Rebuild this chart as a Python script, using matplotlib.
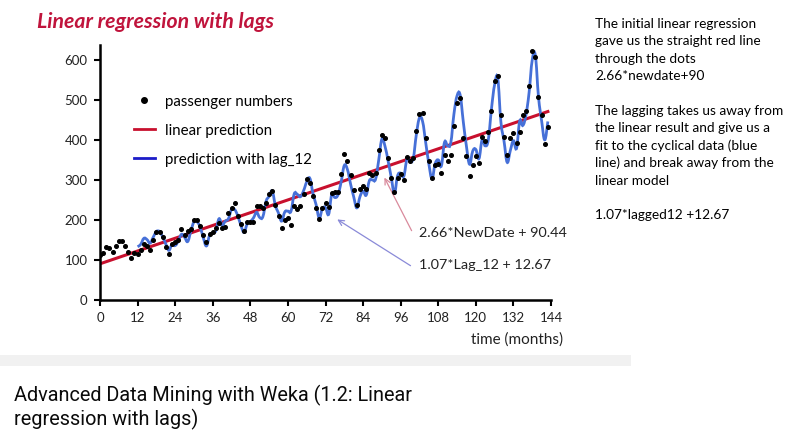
import numpy as np
import matplotlib
matplotlib.use("Agg")
import matplotlib.pyplot as plt
from matplotlib.path import Path
from matplotlib.patches import PathPatch, Rectangle
from matplotlib.lines import Line2D

# monthly passenger numbers, NewDate = 0..143
passengers = [
    112, 118, 132, 129, 121, 135, 148, 148, 136, 119, 104, 118,
    115, 126, 141, 135, 125, 149, 170, 170, 158, 133, 114, 140,
    145, 150, 178, 163, 172, 178, 199, 199, 184, 162, 146, 166,
    171, 180, 193, 181, 183, 218, 230, 242, 209, 191, 172, 194,
    196, 196, 236, 235, 229, 243, 264, 272, 237, 211, 180, 201,
    204, 188, 235, 227, 234, 264, 302, 293, 259, 229, 203, 229,
    242, 233, 267, 269, 270, 315, 364, 347, 312, 274, 237, 278,
    284, 277, 317, 313, 318, 374, 413, 405, 355, 306, 271, 306,
    315, 301, 356, 348, 355, 422, 465, 467, 404, 347, 305, 336,
    340, 318, 362, 348, 363, 435, 491, 505, 404, 359, 310, 337,
    360, 342, 406, 396, 420, 472, 548, 559, 463, 407, 362, 405,
    417, 391, 419, 461, 472, 535, 622, 606, 508, 461, 390, 432,
]

# prediction with lag_12, NewDate = 12..143
lag_pred = [
    133, 139, 154, 151, 142, 157, 171, 171, 158, 140, 124, 139,
    136, 147, 164, 157, 146, 172, 195, 195, 182, 155, 135, 162,
    168, 173, 203, 187, 197, 203, 226, 226, 210, 186, 169, 190,
    196, 205, 219, 206, 208, 246, 259, 272, 236, 217, 197, 220,
    222, 222, 265, 264, 258, 273, 295, 304, 266, 238, 205, 228,
    231, 214, 264, 256, 263, 295, 336, 326, 290, 258, 230, 258,
    272, 262, 298, 300, 302, 350, 402, 384, 347, 306, 266, 310,
    317, 309, 352, 348, 353, 413, 455, 446, 393, 340, 303, 340,
    350, 335, 394, 385, 393, 464, 510, 512, 445, 384, 339, 372,
    376, 353, 400, 385, 401, 478, 538, 553, 445, 397, 344, 373,
    398, 379, 447, 436, 462, 518, 599, 611, 508, 448, 400, 446,
]

# linear prediction end points
linear_x = [0, 143]
linear_y = [90.44, 470.8]

x_ticks = [0, 12, 24, 36, 48, 60, 72, 84, 96, 108, 120, 132, 144]
y_ticks = [0, 100, 200, 300, 400, 500, 600]

side_text = [
    "The initial linear regression",
    "gave us the straight red line",
    "through the dots",
    "2.66*newdate+90",
    "",
    "The lagging takes us away from",
    "the linear result and give us a",
    "fit to the cyclical data (blue",
    "line) and break away from the",
    "linear model",
    "",
    "1.07*lagged12 +12.67",
]

CHART_FONT = ["Lato", "DejaVu Sans"]


def smooth_path(xs, ys):
    # excel-like smoothed line as cubic bezier segments
    pts = np.column_stack([xs, ys]).astype(float)
    verts = [pts[0]]
    codes = [Path.MOVETO]
    n = len(pts)
    for i in range(n - 1):
        p0 = pts[max(i - 1, 0)]
        p1 = pts[i]
        p2 = pts[i + 1]
        p3 = pts[min(i + 2, n - 1)]
        c1 = p1 + (p2 - p0) / 5.0
        c2 = p2 - (p3 - p1) / 5.0
        verts += [c1, c2, p2]
        codes += [Path.CURVE4] * 3
    return Path(verts, codes)


fig = plt.figure(figsize=(7.86, 4.30), dpi=100)
fig.patch.set_facecolor("white")

ax = fig.add_axes([100 / 786, 1 - 300 / 430, 451 / 786, 255 / 430])
ax.set_xlim(0, 144)
ax.set_ylim(0, 637)

months = np.arange(len(passengers))
lag_x = np.arange(12, 12 + len(lag_pred))

ax.plot(linear_x, linear_y, color="#c8102e", lw=2.2, zorder=2)
ax.add_patch(PathPatch(smooth_path(lag_x, lag_pred), facecolor="none",
                       edgecolor="#4670d8", lw=2.0, zorder=3))
ax.plot(months, passengers, "o", color="black", ms=2.6, zorder=4)

for side in ["top", "right"]:
    ax.spines[side].set_visible(False)
for side in ["left", "bottom"]:
    ax.spines[side].set_linewidth(1.8)
ax.set_xticks(x_ticks)
ax.set_yticks(y_ticks)
ax.tick_params(direction="out", length=4, width=1.5, labelsize=9.5, pad=5)
for lab in ax.get_xticklabels() + ax.get_yticklabels():
    lab.set_family(CHART_FONT)
    lab.set_color("#222222")

handles = [
    Line2D([], [], ls="none", marker="o", color="black", ms=4),
    Line2D([], [], color="#c8102e", lw=2),
    Line2D([], [], color="#1c1cc8", lw=2),
]
labels = ["passenger numbers", "linear prediction", "prediction with lag_12"]
ax.legend(handles, labels, loc="upper left", bbox_to_anchor=(0.075, 0.805),
          frameon=False, borderpad=0, borderaxespad=0, handlelength=1.4,
          handletextpad=0.7, labelspacing=1.0,
          prop={"family": CHART_FONT, "size": 10.8})

# equation call-outs
ax.annotate("", xy=(90.4, 312), xytext=(99.9, 167),
            arrowprops=dict(arrowstyle="->", color="#d98a9c", lw=0.9))
ax.annotate("", xy=(75, 205), xytext=(99.9, 82),
            arrowprops=dict(arrowstyle="->", color="#8a8ad8", lw=0.9))
ax.text(101.9, 168, "2.66*NewDate + 90.44", fontsize=10.4, family=CHART_FONT,
        va="center", ha="left", color="#222222")
ax.text(101.9, 87, "1.07*Lag_12 + 12.67", fontsize=10.4, family=CHART_FONT,
        va="center", ha="left", color="#222222")

fig.text(563 / 786, 1 - 340 / 430, "time (months)", fontsize=11,
         family=CHART_FONT, ha="right", va="center", color="#222222")

fig.text(37 / 786, 1 - 22 / 430, "Linear regression with lags", fontsize=15.3,
         family=CHART_FONT, weight="bold", style="italic", color="#c0143c",
         ha="left", va="center")

for i, line in enumerate(side_text):
    if line:
        fig.text(595 / 786, 1 - (24 + i * 17.4) / 430, line, fontsize=9.8,
                 family=CHART_FONT, ha="left", va="center", color="black")

# gray band and caption below the slide
fig.add_artist(Rectangle((0, 1 - 366 / 430), 631 / 786, 11 / 430,
                         transform=fig.transFigure, facecolor="#f1f1f1",
                         edgecolor="none"))
fig.text(14 / 786, 1 - 395 / 430, "Advanced Data Mining with Weka (1.2: Linear",
         fontsize=14.3, family=["Roboto", "DejaVu Sans"], ha="left",
         va="center", color="#0a0a0a")
fig.text(14 / 786, 1 - 419 / 430, "regression with lags)",
         fontsize=14.3, family=["Roboto", "DejaVu Sans"], ha="left",
         va="center", color="#0a0a0a")

fig.savefig("out.png", dpi=100)
